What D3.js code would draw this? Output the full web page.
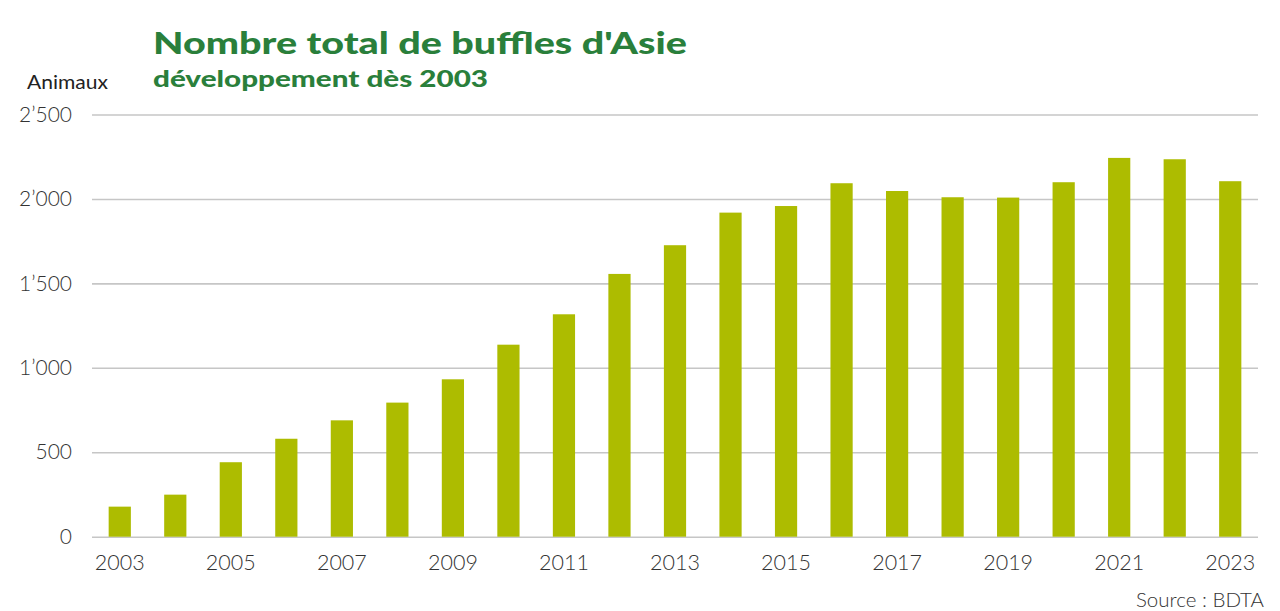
<!DOCTYPE html>
<html><head><meta charset="utf-8">
<script src="https://cdn.jsdelivr.net/npm/d3@7"></script>
<style>
html,body{margin:0;padding:0;background:#fff;}
svg{display:block;}
</style></head>
<body>
<svg id="chart" width="1280" height="611"></svg>
<script>
const years = ["2003","2004","2005","2006","2007","2008","2009","2010","2011","2012","2013","2014","2015","2016","2017","2018","2019","2020","2021","2022","2023"];
const animals = [178,249,441,580,689,794,932,1137,1317,1556,1726,1919,1958,2093,2047,2010,2008,2099,2243,2235,2105];
const yTicks = [0,500,1000,1500,2000,2500];
const xTickLabels = ["2003","2005","2007","2009","2011","2013","2015","2017","2019","2021","2023"];
const title = "Nombre total de buffles d'Asie";
const subtitle = "développement dès 2003";
const yTitle = "Animaux";
const source = "Source : BDTA";

const svg = d3.select("#chart");
const mLeft = 92, mRight = 1258, mTop = 114.5, mBottom = 536.7;
const x = d3.scaleBand().domain(years).range([mLeft, mRight]).paddingInner(0.6).paddingOuter(0.3);
const y = d3.scaleLinear().domain([0, 2500]).range([mBottom, mTop]);
const fmt = v => v >= 1000 ? d3.format(",")(v).replace(",", "\u2019") : String(v);

const labelFont = "Lato, 'Noto Sans', sans-serif";
const textCol = "#333";

// gridlines
const yAxis = d3.axisLeft(y).tickValues(yTicks).tickSize(-(mRight-mLeft)).tickFormat(fmt).tickPadding(20);
const gy = svg.append("g").attr("transform", `translate(${mLeft},0)`).call(yAxis);
gy.select(".domain").remove();
gy.selectAll(".tick line").attr("stroke", "#c6c6c6").attr("stroke-width", 1.6);
gy.selectAll(".tick text").attr("font-family", labelFont).attr("font-size", 21).attr("font-weight", 300).attr("fill", textCol);

// bars
svg.append("g").selectAll("rect").data(years).join("rect")
  .attr("x", d => x(d)).attr("width", x.bandwidth())
  .attr("y", (d,i) => y(animals[i])).attr("height", (d,i) => y(0) - y(animals[i]))
  .attr("fill", "#adbc00");

// x axis
const xAxis = d3.axisBottom(x).tickValues(xTickLabels).tickSize(0).tickPadding(18);
const gx = svg.append("g").attr("transform", `translate(0,${mBottom})`).call(xAxis);
gx.select(".domain").remove();
gx.selectAll(".tick text").attr("font-family", labelFont).attr("font-size", 21.5).attr("font-weight", 300).attr("fill", textCol);

// titles
svg.append("text").attr("x", 153).attr("y", 54).text(title)
  .attr("font-family", "Lato, 'Open Sans', sans-serif").attr("font-weight", 900).attr("font-size", 31)
  .attr("fill", "#2a7f3b").attr("textLength", 534).attr("lengthAdjust", "spacingAndGlyphs");
svg.append("text").attr("x", 153).attr("y", 87).text(subtitle)
  .attr("font-family", "Lato, 'Open Sans', sans-serif").attr("font-weight", 900).attr("font-size", 23)
  .attr("fill", "#2a7f3b").attr("textLength", 335).attr("lengthAdjust", "spacingAndGlyphs");
svg.append("text").attr("x", 108).attr("y", 89).attr("text-anchor", "end").text(yTitle)
  .attr("font-family", labelFont).attr("font-size", 20).attr("font-weight", 400).attr("fill", "#222")
  .attr("textLength", 81).attr("lengthAdjust", "spacingAndGlyphs");
svg.append("text").attr("x", 1264).attr("y", 607).attr("text-anchor", "end").text(source)
  .attr("font-family", labelFont).attr("font-size", 20.5).attr("font-weight", 300).attr("fill", textCol);
</script>
</body></html>
